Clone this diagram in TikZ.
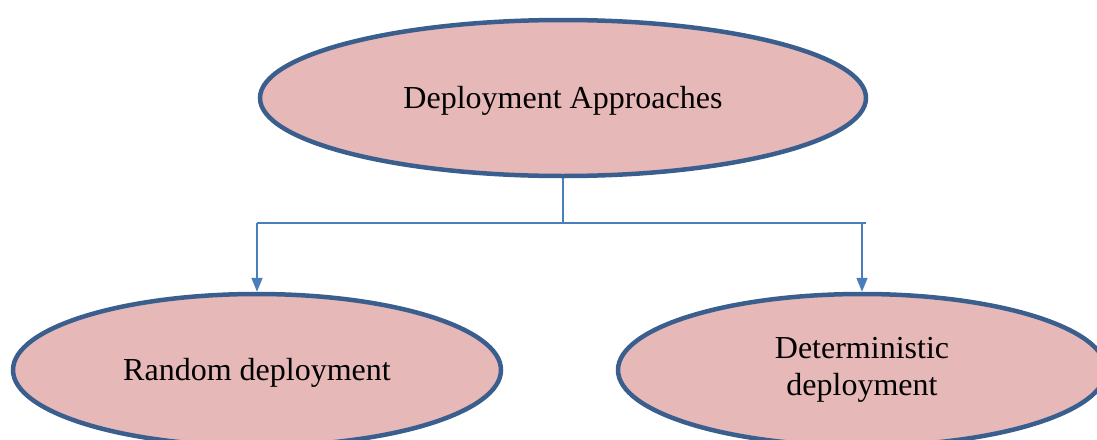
\documentclass[tikz,border=0pt]{standalone}
\usepackage{fontspec}
\setmainfont{Liberation Serif}
\usetikzlibrary{shapes.geometric,arrows.meta}
\definecolor{ellfill}{HTML}{E6B8B7}
\definecolor{elldraw}{HTML}{3A5F8E}
\definecolor{conn}{HTML}{4A7EBB}
\begin{document}
\begin{tikzpicture}[x=1pt,y=-1pt,
  oval/.style={ellipse, draw=elldraw, fill=ellfill, line width=4.5pt, inner sep=0pt,
    font=\fontsize{32}{37}\selectfont, align=center},
  oneline/.style={text height=22pt, text depth=1pt},
  link/.style={draw=conn, line width=1.8pt},
  arr/.style={link, -{Triangle[width=11pt,length=14pt]}}]
\useasboundingbox (0,0) rectangle (1097,439);
\node[oval, oneline, minimum width=606pt, minimum height=156pt] (top) at (563,98) {Deployment Approaches};
\node[oval, oneline, minimum width=488pt, minimum height=152pt] (left) at (257,370) {Random deployment};
\node[oval, minimum width=488pt, minimum height=152pt] (right) at (862,370) {Deterministic\\deployment};
\coordinate (j) at (563,223);
\coordinate (jl) at (257,223);
\coordinate (jr) at (862,223);
\coordinate (jre) at (866,223);
\draw[link] (top.south) -- (j);
\draw[link] (jl) -- (jre);
\draw[arr] (jl) -- (left.north);
\draw[arr] (jr) -- (right.north);
\end{tikzpicture}
\end{document}
